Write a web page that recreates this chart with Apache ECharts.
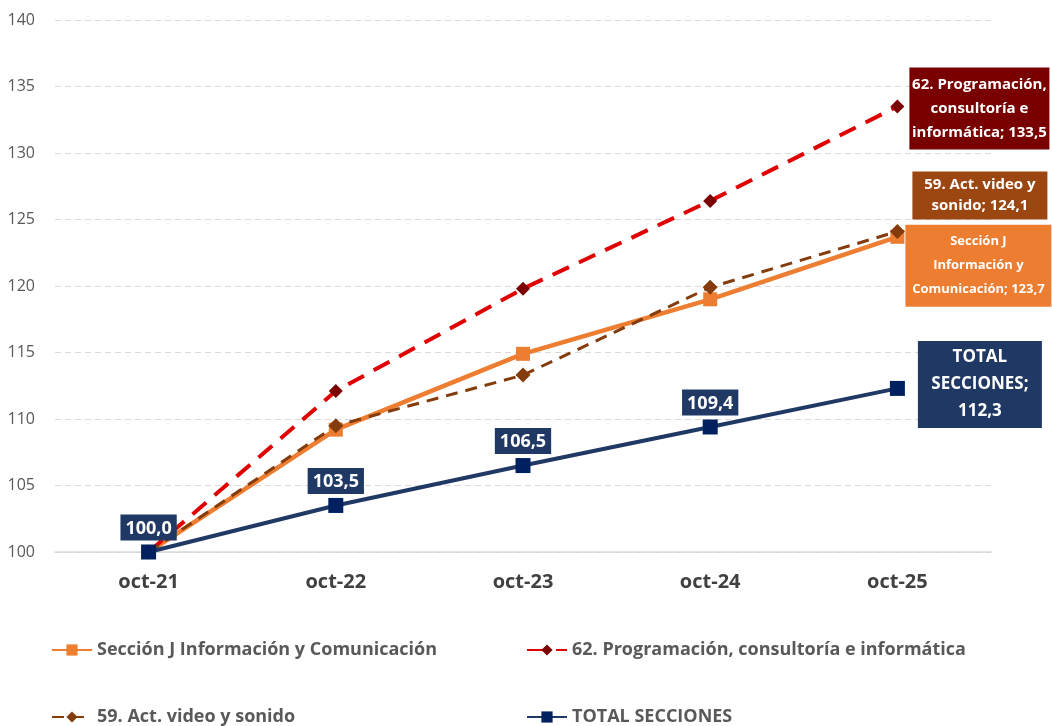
<!DOCTYPE html>
<html>
<head>
<meta charset="utf-8">
<script src="https://cdn.jsdelivr.net/npm/echarts@6/dist/echarts.min.js"></script>
<style>
html,body{margin:0;padding:0;background:#fff;}
#main{width:1052px;height:726px;}
</style>
</head>
<body>
<div id="main"></div>
<script>
var meses = ['oct-21', 'oct-22', 'oct-23', 'oct-24', 'oct-25'];
var seccionJ = [100.0, 109.2, 114.9, 119.0, 123.7];
var prog62 = [100.0, 112.1, 119.8, 126.4, 133.5];
var video59 = [100.0, 109.5, 113.3, 119.9, 124.1];
var totalSecc = [100.0, 103.5, 106.5, 109.4, 112.3];

var nombres = ['Sección J Información y Comunicación', '62. Programación, consultoría e informática',
  '59. Act. video y sonido', 'TOTAL SECCIONES'];

var fuente = '"Open Sans", sans-serif';

function fmt(v){ return v.toFixed(1).replace('.', ','); }

// etiqueta del ultimo punto (caja a la derecha)
function ultima(arr, txt, lab){
  return arr.map(function(v, i){
    if (i < arr.length - 1) return v;
    return { value: v, label: Object.assign({
      show: true, position: 'right', distance: 0, align: 'center',
      color: '#fff', fontFamily: fuente, fontWeight: 'bold',
      formatter: txt + fmt(v)
    }, lab) };
  });
}

var myChart = echarts.init(document.getElementById('main'));

var leyenda = function(nombre, left, top){
  return {
    data: [nombre], left: left, top: top, itemWidth: 40, itemHeight: 14,
    textStyle: { fontFamily: fuente, fontSize: 18, fontWeight: 'bold', color: '#595959' }
  };
};

var option = {
  animation: false,
  grid: { left: 55, right: 61, top: 20, bottom: 174 },
  legend: [
    leyenda(nombres[0], 46, 636),
    leyenda(nombres[1], 521, 636),
    leyenda(nombres[2], 46, 703),
    leyenda(nombres[3], 521, 703)
  ],
  xAxis: {
    type: 'category',
    data: meses,
    axisLine: { lineStyle: { color: '#D9D9D9', width: 1.5 } },
    axisTick: { show: false },
    axisLabel: { margin: 20, fontFamily: fuente, fontSize: 20, fontWeight: 'bold', color: '#404040' }
  },
  yAxis: {
    type: 'value', min: 100, max: 140, interval: 5,
    axisLine: { show: false },
    axisTick: { show: false },
    axisLabel: { margin: 20, fontFamily: fuente, fontSize: 16, color: '#595959' },
    splitLine: { lineStyle: { color: '#D9D9D9', type: [6, 4] } }
  },
  series: [
    {
      name: nombres[0], type: 'line',
      data: ultima(seccionJ, 'Sección J\nInformación y\nComunicación; ', {
        offset: [74, 29], backgroundColor: '#ED7D31', fontSize: 13,
        lineHeight: 24, width: 136, padding: [5, 5]
      }),
      symbol: 'rect', symbolSize: 14,
      lineStyle: { color: '#ED7D31', width: 4.5 },
      itemStyle: { color: '#ED7D31' }
    },
    {
      name: nombres[1], type: 'line',
      data: ultima(prog62, '62. Programación,\nconsultoría e\ninformática; ', {
        offset: [75, 2], backgroundColor: '#780000', fontSize: 15,
        lineHeight: 24, width: 130, padding: [5, 5]
      }),
      symbol: 'diamond', symbolSize: 14,
      lineStyle: { color: '#E00000', width: 4, type: [18, 11] },
      itemStyle: { color: '#7B0000' }
    },
    {
      name: nombres[2], type: 'line',
      data: ultima(video59, '59. Act. video y\nsonido; ', {
        offset: [75, -36], backgroundColor: '#9C4612', fontSize: 15,
        lineHeight: 21, width: 125, padding: [3, 5]
      }),
      symbol: 'diamond', symbolSize: 15,
      lineStyle: { color: '#843C0C', width: 3, type: [12, 8] },
      itemStyle: { color: '#843C0C' }
    },
    {
      name: nombres[3], type: 'line',
      data: totalSecc.map(function(v, i){
        if (i < totalSecc.length - 1) return v;
        return { value: v, label: {
          position: 'right', distance: 0, offset: [75, -4],
          formatter: 'TOTAL\nSECCIONES;\n' + fmt(v), fontSize: 17, lineHeight: 27,
          width: 108, padding: [3, 8]
        } };
      }),
      symbol: 'rect', symbolSize: 15,
      lineStyle: { color: '#203864', width: 4 },
      itemStyle: { color: '#002060' },
      label: {
        show: true, position: 'top', distance: 4,
        formatter: function(p){ return fmt(p.value); },
        backgroundColor: '#203864', color: '#fff', fontFamily: fuente, fontSize: 18, fontWeight: 'bold',
        align: 'center', padding: [5, 5, 3, 5]
      },
      z: 5
    }
  ]
};

myChart.setOption(option);
</script>
</body>
</html>
